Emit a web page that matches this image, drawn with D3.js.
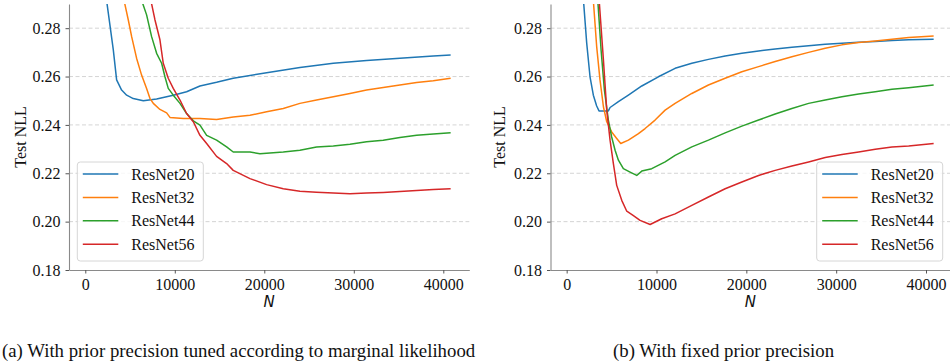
<!DOCTYPE html>
<html>
<head>
<meta charset="utf-8">
<script src="https://cdn.jsdelivr.net/npm/d3@7"></script>
<style>
  body { margin: 0; background: #fff; }
  svg text { font-family: "Liberation Serif", "Times New Roman", serif; fill: #111; }
</style>
</head>
<body>
<svg id="fig" width="950" height="362"></svg>
<script>
// ---- data ----
const models = ["ResNet20", "ResNet32", "ResNet44", "ResNet56"];
const nTicks = [0, 10000, 20000, 30000, 40000];
const nllTicks = [0.18, 0.20, 0.22, 0.24, 0.26, 0.28];
const captions = ["(a) With prior precision tuned according to marginal likelihood",
                  "(b) With fixed prior precision"];

// (a) prior precision tuned by marginal likelihood: [N, test NLL]
const tuned20 = [[2250, 0.295], [3130, 0.271], [3500, 0.2586], [4060, 0.2544], [4620, 0.2523],
  [5360, 0.2509], [6480, 0.2500], [7970, 0.2507], [9830, 0.2523], [11320, 0.2537], [12810, 0.2561],
  [14670, 0.2576], [16530, 0.2593], [20260, 0.2616], [23980, 0.2637], [27710, 0.2655],
  [31430, 0.2666], [35150, 0.2676], [38880, 0.2685], [40820, 0.2689]];
const tuned32 = [[4300, 0.292], [4800, 0.2835], [5180, 0.2765], [5730, 0.2676], [6290, 0.2606],
  [6850, 0.2551], [7220, 0.2510], [7600, 0.2489], [8340, 0.2464], [9090, 0.2450], [9460, 0.2431],
  [10950, 0.2427], [12810, 0.2427], [14670, 0.2422], [16530, 0.2433], [18400, 0.2440],
  [20260, 0.2454], [22120, 0.2468], [23980, 0.2489], [25840, 0.2503], [27710, 0.2516],
  [29570, 0.2530], [31430, 0.2544], [33290, 0.2555], [35150, 0.2565], [37020, 0.2575],
  [38880, 0.2583], [40820, 0.2593]];
const tuned44 = [[6250, 0.292], [6850, 0.2855], [7410, 0.2765], [7970, 0.2696], [8530, 0.2655],
  [8900, 0.2599], [9270, 0.2551], [9830, 0.2523], [10580, 0.2489], [11320, 0.2447], [12070, 0.2417],
  [12810, 0.2399], [13560, 0.2357], [14670, 0.2337], [15790, 0.2309], [16530, 0.2288],
  [18400, 0.2288], [19510, 0.2281], [22120, 0.2288], [23980, 0.2295], [25840, 0.2309],
  [27710, 0.2313], [29570, 0.2320], [31430, 0.2330], [33290, 0.2337], [35150, 0.2348],
  [37020, 0.2357], [38880, 0.2362], [40820, 0.2368]];
const tuned56 = [[7300, 0.292], [7780, 0.2835], [8340, 0.2752], [8710, 0.2655], [9270, 0.2593],
  [9830, 0.2551], [10580, 0.2503], [11320, 0.2447], [12070, 0.2413], [12810, 0.2357],
  [13560, 0.2323], [14670, 0.2270], [15790, 0.2240], [16530, 0.2212], [18400, 0.2178],
  [20260, 0.2153], [22120, 0.2136], [23980, 0.2126], [25840, 0.2122], [27710, 0.2118],
  [29570, 0.2115], [31430, 0.2118], [33290, 0.2121], [35150, 0.2125], [37020, 0.2129],
  [38880, 0.2133], [40820, 0.2136]];

// (b) fixed prior precision
const fixed20 = [[1800, 0.295], [2230, 0.2738], [2600, 0.2599], [2970, 0.2523], [3340, 0.2478],
  [3600, 0.2458], [4640, 0.2458], [4830, 0.2472], [5760, 0.2496], [6870, 0.2523], [8360, 0.2561],
  [10210, 0.2599], [12070, 0.2634], [13930, 0.2655], [15780, 0.2671], [17640, 0.2685],
  [19500, 0.2696], [21360, 0.2706], [23210, 0.2714], [25070, 0.2721], [26930, 0.2727],
  [28780, 0.2734], [30640, 0.2738], [32500, 0.2742], [34350, 0.2745], [36210, 0.2749],
  [38070, 0.2752], [40850, 0.2754]];
const fixed32 = [[2900, 0.295], [3340, 0.2724], [3710, 0.2586], [4090, 0.2475], [4460, 0.2413],
  [5010, 0.2371], [5570, 0.2344], [6020, 0.2323], [6870, 0.2337], [7990, 0.2364], [8730, 0.2385],
  [9840, 0.2420], [10960, 0.2461], [12070, 0.2489], [13930, 0.2530], [15780, 0.2565],
  [17640, 0.2593], [19500, 0.2620], [21360, 0.2641], [23210, 0.2662], [25070, 0.2682],
  [26930, 0.2700], [28780, 0.2717], [30640, 0.2731], [32500, 0.2741], [34350, 0.2747],
  [36210, 0.2754], [38070, 0.2761], [40850, 0.2768]];
const fixed44 = [[3400, 0.295], [3830, 0.2710], [4200, 0.2544], [4640, 0.2420], [5010, 0.2350],
  [5390, 0.2295], [5760, 0.2254], [6310, 0.2219], [7060, 0.2205], [7800, 0.2191], [8360, 0.2209],
  [9470, 0.2219], [10960, 0.2247], [12070, 0.2274], [13930, 0.2309], [15780, 0.2337],
  [17640, 0.2367], [19500, 0.2395], [21360, 0.2420], [23210, 0.2445], [25070, 0.2468],
  [26930, 0.2489], [28780, 0.2503], [30640, 0.2516], [32500, 0.2528], [34350, 0.2537],
  [36210, 0.2547], [38070, 0.2554], [40850, 0.2565]];
const fixed56 = [[3550, 0.295], [4090, 0.2669], [4460, 0.2461], [4830, 0.2337], [5200, 0.2240],
  [5570, 0.2150], [6130, 0.2088], [6690, 0.2043], [7430, 0.2025], [8170, 0.2005], [9290, 0.1988],
  [10580, 0.2012], [12070, 0.2032], [13930, 0.2067], [15780, 0.2102], [17640, 0.2136],
  [19500, 0.2164], [21360, 0.2191], [23210, 0.2212], [25070, 0.2230], [26930, 0.2247],
  [28780, 0.2265], [30640, 0.2278], [32500, 0.2288], [34350, 0.2299], [36210, 0.2309],
  [38070, 0.2313], [40850, 0.2323]];

// ---- styling / layout ----
const colors = ["#1f77b4", "#ff7f0e", "#2ca02c", "#d62728"];
const plotTop = 4, plotBottom = 270;

var svg = d3.select("#fig");

function draw_panel(p) {
    var g = svg.append("g");

    var x = d3.scaleLinear().domain(p.xDomain).range([p.left, p.right]);
    var y = d3.scaleLinear().domain([0.18, 0.29]).range([plotBottom, plotTop]);

    // dashed grid
    g.append("g")
        .selectAll("line")
        .data(nllTicks.slice(1))
        .join("line")
        .attr("x1", p.left).attr("x2", p.right)
        .attr("y1", d => y(d)).attr("y2", d => y(d))
        .attr("stroke", "#cfcfcf")
        .attr("stroke-width", 0.9)
        .attr("stroke-dasharray", "4,2.5");

    // axes
    var xAxis = g.append("g")
        .attr("transform", "translate(0," + plotBottom + ")")
        .call(d3.axisBottom(x).tickValues(nTicks).tickFormat(d3.format("d"))
            .tickSize(3.5).tickPadding(5).tickSizeOuter(0));
    var yAxis = g.append("g")
        .attr("transform", "translate(" + p.left + ",0)")
        .call(d3.axisLeft(y).tickValues(nllTicks).tickFormat(d3.format(".2f"))
            .tickSize(3.5).tickPadding(5).tickSizeOuter(0));
    [xAxis, yAxis].forEach(function (a) {
        a.attr("font-family", null);
        a.select(".domain").attr("stroke", "#8a8a8a").attr("stroke-width", 1.1);
        a.selectAll(".tick line").attr("stroke", "#555");
        a.selectAll(".tick text").attr("font-size", 16)
            .style("font-family", "'Liberation Serif', serif").attr("fill", "#111");
    });

    g.append("text")
        .attr("transform", "translate(" + p.ylabelX + "," + ((plotTop + plotBottom) / 2) + ") rotate(-90)")
        .attr("text-anchor", "middle")
        .attr("font-size", 16)
        .text("Test NLL");

    g.append("text")
        .attr("x", (p.left + p.right) / 2)
        .attr("y", 307)
        .attr("text-anchor", "middle")
        .attr("font-size", 15)
        .attr("font-style", "italic")
        .style("font-family", "'DejaVu Sans', sans-serif")
        .text("N");

    // lines, clipped to the axes box
    svg.append("clipPath").attr("id", p.id)
        .append("rect")
        .attr("x", p.left).attr("y", plotTop)
        .attr("width", p.right - p.left).attr("height", plotBottom - plotTop);

    var line = d3.line()
        .x(function (d) { return x(d[0]); })
        .y(function (d) { return y(d[1]); });

    g.append("g")
        .attr("clip-path", "url(#" + p.id + ")")
        .selectAll("path")
        .data(p.series)
        .join("path")
        .attr("fill", "none")
        .attr("stroke", (d, i) => colors[i])
        .attr("stroke-width", 1.5)
        .attr("stroke-linejoin", "round")
        .attr("d", line);

    // legend
    var lg = g.append("g").attr("transform", "translate(" + p.legendX + ",162)");
    lg.append("rect")
        .attr("width", 126).attr("height", 99)
        .attr("rx", 3).attr("ry", 3)
        .attr("fill", "#fff").attr("fill-opacity", 0.8)
        .attr("stroke", "#d6d6d6").attr("stroke-width", 1);
    var rows = lg.selectAll(".row")
        .data(models)
        .join("g")
        .attr("class", "row")
        .attr("transform", (d, i) => "translate(0," + (12 + i * 23.4) + ")");
    rows.append("line")
        .attr("x1", 5.5).attr("x2", 41)
        .attr("stroke", (d, i) => colors[i])
        .attr("stroke-width", 1.5);
    rows.append("text")
        .attr("x", 54)
        .attr("y", 5.5)
        .attr("font-size", 16)
        .text(d => d);

    svg.append("text")
        .attr("x", p.captionX)
        .attr("y", 356.5)
        .attr("font-size", 18.8)
        .text(p.caption);
}

draw_panel({
    id: "clipA", left: 69, right: 469.3, xDomain: [-1820, 42905],
    ylabelX: 26, legendX: 77.3, captionX: 2, caption: captions[0],
    series: [tuned20, tuned32, tuned44, tuned56]
});
draw_panel({
    id: "clipB", left: 550.5, right: 950, xDomain: [-1800, 42670],
    ylabelX: 505, legendX: 816.7, captionX: 613, caption: captions[1],
    series: [fixed20, fixed32, fixed44, fixed56]
});
</script>
</body>
</html>
